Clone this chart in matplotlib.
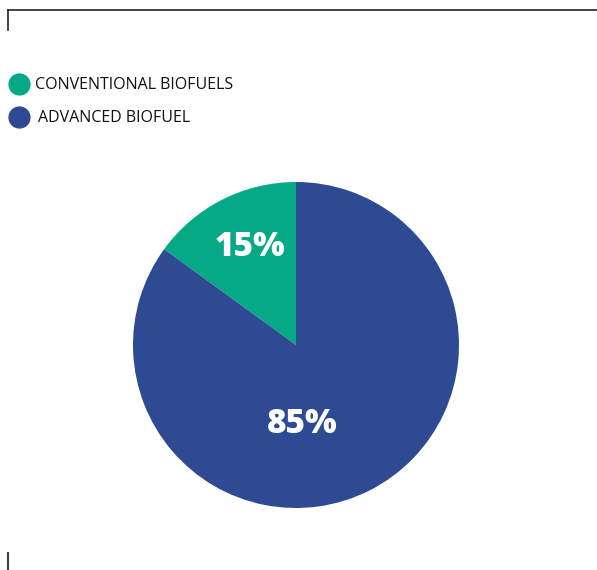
import matplotlib
matplotlib.use("Agg")
import matplotlib.pyplot as plt

# Biofuel share data
labels = ["CONVENTIONAL BIOFUELS", "ADVANCED BIOFUEL"]
shares = [15, 85]
colors = ["#05A985", "#2D4A93"]

W, H = 597, 570
fig = plt.figure(figsize=(W / 100, H / 100), dpi=100)
ax = fig.add_axes([0, 0, 1, 1])

# frame corner lines
ax.plot([8, W], [H - 10, H - 10], color="#222222", lw=1.2)
ax.plot([8, 8], [H - 10, H - 30], color="#222222", lw=1.2)
ax.plot([8, 8], [H - 553, H - 570], color="#444444", lw=1.5)

# pie
cx, cy, r = 296, H - 345, 163
ax.pie(shares, colors=colors, startangle=90, counterclock=True,
       center=(cx, cy), radius=r, frame=True,
       wedgeprops=dict(linewidth=0))
ax.set_xlim(0, W)
ax.set_ylim(0, H)
ax.set_aspect("equal")
ax.axis("off")

label_pos = [(250, 247), (302, 424)]
for val, (x, y) in zip(shares, label_pos):
    ax.text(x, H - y, f"{val}%", color="white", fontsize=24,
            fontweight="heavy", family="Open Sans", ha="center", va="center")

# legend
leg_y = [84, 117]
text_x = [35, 38]
for lab, col, y, tx in zip(labels, colors, leg_y, text_x):
    ax.plot(19, H - y, "o", color=col, markersize=15)
    ax.text(tx, H - y - 1, lab, fontsize=11.5, family="Open Sans",
            ha="left", va="center", color="#111111")

fig.savefig("out.png", dpi=100)
